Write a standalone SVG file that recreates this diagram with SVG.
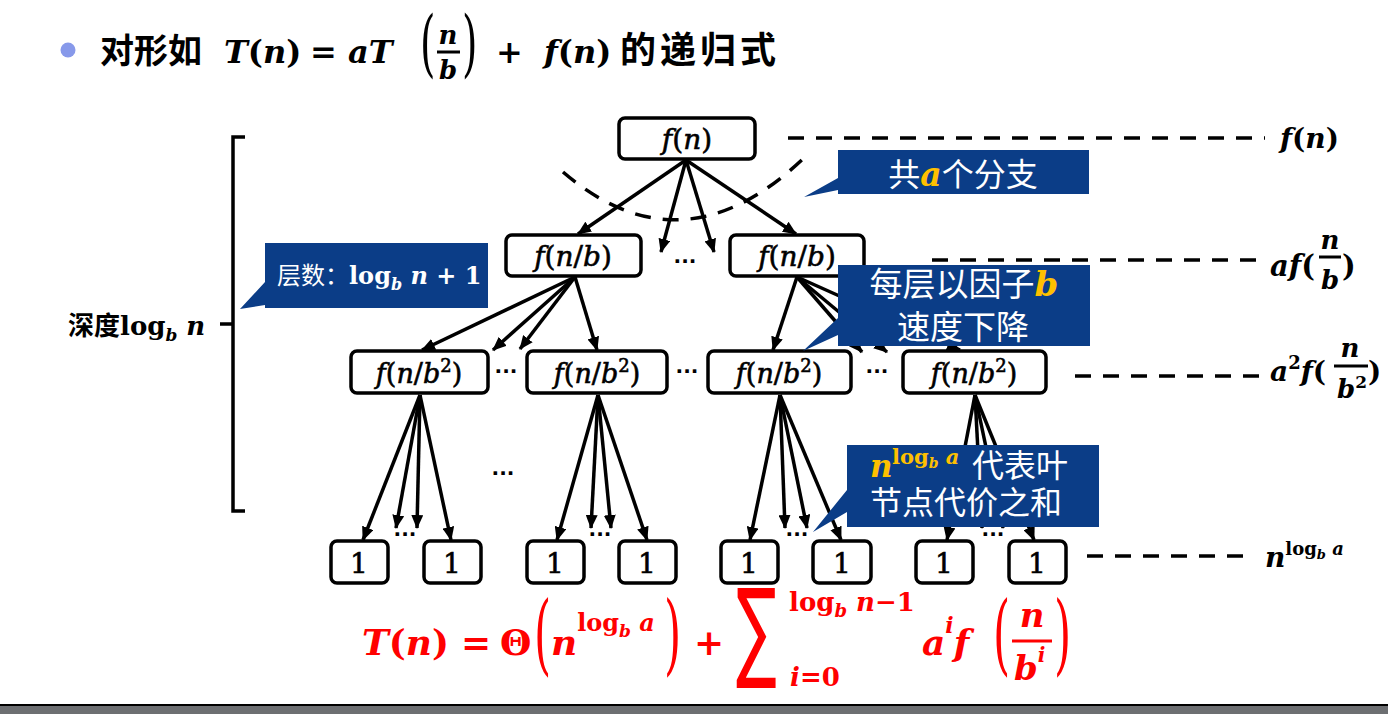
<svg xmlns="http://www.w3.org/2000/svg" width="1388" height="714" viewBox="0 0 1388 714">
<style>
.m{font-family:"DejaVu Serif","Liberation Serif",serif;font-style:italic}
.u{font-style:normal}
.bd{font-weight:bold}
.cjk{font-family:"Noto Sans CJK SC","Noto Sans",sans-serif}
.node rect{fill:#fff;stroke:#000;stroke-width:3.5}
.node text{stroke:#000;stroke-width:0.6}
.edge line{stroke:#000;stroke-width:3.5;marker-end:url(#ah)}
.dash{stroke:#000;stroke-width:3.5;stroke-dasharray:16 12;fill:none}
.co{fill:#0b3d87}
.wt{fill:#fff}
.gd{fill:#ffc000}
.dots{font-family:"DejaVu Sans",sans-serif;font-size:20px;font-weight:bold}
</style>
<defs>
<marker id="ah" markerUnits="userSpaceOnUse" markerWidth="14" markerHeight="12" viewBox="0 0 14 12" refX="13" refY="6" orient="auto">
<path d="M0,0 L14,6 L0,12 z" fill="#000"/>
</marker>
</defs>
<rect width="1388" height="714" fill="#fff"/>

<!-- title -->
<g id="title">
<circle cx="68" cy="50" r="7.5" fill="#8799ea"/>
<text x="100" y="63" class="cjk bd" font-size="34">对形如</text>
<text x="224" y="63" class="m bd" font-size="32">T<tspan class="u">(</tspan>n<tspan class="u">)</tspan></text>
<text x="310" y="63" class="m bd u" font-size="32">=</text>
<text x="348" y="63" class="m bd" font-size="32">aT</text>
<text transform="translate(420,68) scale(0.55,1)" class="m u" font-size="72">(</text>
<text x="448" y="44" class="m bd" font-size="26" text-anchor="middle">n</text>
<line x1="437" y1="52" x2="460" y2="52" stroke="#000" stroke-width="3"/>
<text x="448" y="79" class="m bd" font-size="26" text-anchor="middle">b</text>
<text transform="translate(462,68) scale(0.55,1)" class="m u" font-size="72">)</text>
<text x="496" y="63" class="m bd u" font-size="32">+</text>
<text x="544" y="63" class="m bd" font-size="32">f<tspan class="u">(</tspan>n<tspan class="u">)</tspan></text>
<text x="620" y="63" class="cjk bd" font-size="36" letter-spacing="4">的递归式</text>
</g>

<!-- depth bracket -->
<g id="depth">
<path d="M245,137 L233,137 L233,511 L245,511 M233,324 L220,324" fill="none" stroke="#000" stroke-width="3.5"/>
<text x="68" y="335" class="cjk bd" font-size="26">深度<tspan class="m u bd">log</tspan><tspan class="m bd" font-size="17" dy="6">b</tspan><tspan class="m bd" dy="-6"> n</tspan></text>
</g>

<!-- dashed guides and right labels -->
<g id="guides">
<line class="dash" x1="788" y1="138" x2="1265" y2="138"/>
<line class="dash" x1="932" y1="260" x2="1262" y2="260"/>
<line class="dash" x1="1075" y1="376" x2="1265" y2="376"/>
<line class="dash" x1="1087" y1="556" x2="1250" y2="556"/>
<path class="dash" d="M563,172 Q683,275 806,156"/>
</g>
<g id="lbl-f">
<text x="1280" y="148" class="m bd" font-size="28">f<tspan class="u">(</tspan>n<tspan class="u">)</tspan></text>
</g>
<g id="lbl-af">
<text x="1270" y="276" class="m bd" font-size="29">af<tspan class="u">(</tspan></text>
<text x="1330" y="249" class="m bd" font-size="26" text-anchor="middle">n</text>
<line x1="1319" y1="257" x2="1341" y2="257" stroke="#000" stroke-width="3"/>
<text x="1330" y="289" class="m bd" font-size="26" text-anchor="middle">b</text>
<text x="1342" y="276" class="m bd u" font-size="29">)</text>
</g>
<g id="lbl-a2f">
<text x="1270" y="381" class="m bd" font-size="28">a<tspan class="u" font-size="18" dy="-12">2</tspan><tspan dy="12">f</tspan><tspan class="u">(</tspan></text>
<text x="1350" y="357" class="m bd" font-size="26" text-anchor="middle">n</text>
<line x1="1334" y1="366" x2="1368" y2="366" stroke="#000" stroke-width="3"/>
<text x="1337" y="398" class="m bd" font-size="26">b<tspan class="u" font-size="17" dy="-10">2</tspan></text>
<text x="1368" y="381" class="m bd u" font-size="28">)</text>
</g>
<g id="lbl-leaf">
<text x="1265" y="567" class="m bd" font-size="28">n<tspan class="u" font-size="18" dy="-12">log</tspan><tspan font-size="13" dy="4">b</tspan><tspan font-size="18" dy="-4"> a</tspan></text>
</g>

<!-- connectors -->
<g id="connectors" class="edge">
<line x1="686" y1="160" x2="578" y2="234"/>
<line x1="686" y1="160" x2="661" y2="252"/>
<line x1="686" y1="160" x2="714" y2="252"/>
<line x1="686" y1="160" x2="796" y2="234"/>

<line x1="575" y1="277" x2="422" y2="350"/>
<line x1="575" y1="277" x2="493" y2="350"/>
<line x1="575" y1="277" x2="520" y2="349"/>
<line x1="575" y1="277" x2="597" y2="350"/>

<line x1="797" y1="277" x2="773" y2="350"/>
<line x1="797" y1="277" x2="862" y2="352"/>
<line x1="797" y1="277" x2="887" y2="352"/>
<line x1="797" y1="277" x2="960" y2="350"/>

<line x1="420" y1="395" x2="363" y2="540"/>
<line x1="420" y1="395" x2="396" y2="528"/>
<line x1="420" y1="395" x2="417" y2="528"/>
<line x1="420" y1="395" x2="451" y2="540"/>

<line x1="598" y1="395" x2="557" y2="540"/>
<line x1="598" y1="395" x2="591" y2="528"/>
<line x1="598" y1="395" x2="611" y2="528"/>
<line x1="598" y1="395" x2="647" y2="540"/>

<line x1="780" y1="395" x2="750" y2="540"/>
<line x1="780" y1="395" x2="785" y2="528"/>
<line x1="780" y1="395" x2="807" y2="528"/>
<line x1="780" y1="395" x2="841" y2="540"/>

<line x1="975" y1="395" x2="947" y2="540"/>
<line x1="975" y1="395" x2="982" y2="528"/>
<line x1="975" y1="395" x2="1003" y2="528"/>
<line x1="975" y1="395" x2="1034" y2="540"/>
</g>

<!-- nodes -->
<g id="n-root" class="node"><rect x="619" y="118" width="136" height="41" rx="6"/>
<text x="687" y="149" class="m" font-size="28" text-anchor="middle">f<tspan class="u">(</tspan>n<tspan class="u">)</tspan></text></g>
<g id="n-l1a" class="node"><rect x="506" y="235" width="135" height="41" rx="6"/>
<text x="573" y="266" class="m" font-size="28" text-anchor="middle">f<tspan class="u">(</tspan>n<tspan class="u">/</tspan>b<tspan class="u">)</tspan></text></g>
<g id="n-l1b" class="node"><rect x="730" y="235" width="134" height="41" rx="6"/>
<text x="797" y="266" class="m" font-size="28" text-anchor="middle">f<tspan class="u">(</tspan>n<tspan class="u">/</tspan>b<tspan class="u">)</tspan></text></g>

<g id="n-l2a" class="node"><rect x="351" y="351" width="137" height="42" rx="6"/>
<text x="419" y="383" class="m" font-size="27" text-anchor="middle">f<tspan class="u">(</tspan>n<tspan class="u">/</tspan>b<tspan class="u" font-size="18" dy="-11">2</tspan><tspan class="u" dy="11">)</tspan></text></g>
<g id="n-l2b" class="node"><rect x="527" y="351" width="140" height="42" rx="6"/>
<text x="597" y="383" class="m" font-size="27" text-anchor="middle">f<tspan class="u">(</tspan>n<tspan class="u">/</tspan>b<tspan class="u" font-size="18" dy="-11">2</tspan><tspan class="u" dy="11">)</tspan></text></g>
<g id="n-l2c" class="node"><rect x="708" y="351" width="143" height="42" rx="6"/>
<text x="779" y="383" class="m" font-size="27" text-anchor="middle">f<tspan class="u">(</tspan>n<tspan class="u">/</tspan>b<tspan class="u" font-size="18" dy="-11">2</tspan><tspan class="u" dy="11">)</tspan></text></g>
<g id="n-l2d" class="node"><rect x="903" y="351" width="143" height="42" rx="6"/>
<text x="974" y="383" class="m" font-size="27" text-anchor="middle">f<tspan class="u">(</tspan>n<tspan class="u">/</tspan>b<tspan class="u" font-size="18" dy="-11">2</tspan><tspan class="u" dy="11">)</tspan></text></g>

<g id="n-leaf1" class="node"><rect x="331" y="541" width="57" height="42" rx="6"/><text x="359" y="573" class="m u" font-size="28" text-anchor="middle">1</text></g>
<g id="n-leaf2" class="node"><rect x="424" y="541" width="57" height="42" rx="6"/><text x="452" y="573" class="m u" font-size="28" text-anchor="middle">1</text></g>
<g id="n-leaf3" class="node"><rect x="527" y="541" width="57" height="42" rx="6"/><text x="555" y="573" class="m u" font-size="28" text-anchor="middle">1</text></g>
<g id="n-leaf4" class="node"><rect x="619" y="541" width="57" height="42" rx="6"/><text x="647" y="573" class="m u" font-size="28" text-anchor="middle">1</text></g>
<g id="n-leaf5" class="node"><rect x="721" y="541" width="57" height="42" rx="6"/><text x="749" y="573" class="m u" font-size="28" text-anchor="middle">1</text></g>
<g id="n-leaf6" class="node"><rect x="813" y="541" width="58" height="42" rx="6"/><text x="842" y="573" class="m u" font-size="28" text-anchor="middle">1</text></g>
<g id="n-leaf7" class="node"><rect x="916" y="541" width="57" height="42" rx="6"/><text x="944" y="573" class="m u" font-size="28" text-anchor="middle">1</text></g>
<g id="n-leaf8" class="node"><rect x="1009" y="541" width="57" height="42" rx="6"/><text x="1037" y="573" class="m u" font-size="28" text-anchor="middle">1</text></g>

<!-- ellipses -->
<g id="ellipses" class="dots">
<text x="685" y="268" text-anchor="middle">···</text>
<text x="506" y="378" text-anchor="middle">···</text>
<text x="687" y="378" text-anchor="middle">···</text>
<text x="877" y="378" text-anchor="middle">···</text>
<text x="503" y="480" text-anchor="middle">···</text>
<text x="405" y="541" text-anchor="middle">···</text>
<text x="600" y="541" text-anchor="middle">···</text>
<text x="797" y="541" text-anchor="middle">···</text>
<text x="993" y="541" text-anchor="middle">···</text>
</g>

<!-- callouts -->
<g id="c-branch">
<polygon class="co" points="838,150 1089,150 1089,194 838,194 838,190 804,197 838,178"/>
<text x="963" y="186" class="cjk wt" font-size="32" text-anchor="middle">共<tspan class="m bd gd" font-size="33">a</tspan>个分支</text>
</g>
<g id="c-levels">
<polygon class="co" points="265,243 488,243 488,308 265,308 265,305 240,309 265,282"/>
<text x="277" y="284" class="cjk wt" font-size="24">层数：<tspan class="m bd u">log</tspan><tspan class="m bd" font-size="16" dy="6">b</tspan><tspan class="m bd" dy="-6"> n</tspan><tspan class="m bd u"> + 1</tspan></text>
</g>
<g id="c-shrink">
<polygon class="co" points="838,265 1090,265 1090,346 838,346 838,335 803,351 838,318"/>
<text x="964" y="296" class="cjk wt" font-size="33" text-anchor="middle">每层以因子<tspan class="m bd gd" font-size="34">b</tspan></text>
<text x="963" y="339" class="cjk wt" font-size="33" text-anchor="middle">速度下降</text>
</g>
<g id="c-leafcost">
<polygon class="co" points="847,445 1099,445 1099,527 847,527 847,512 813,532 847,490"/>
<text x="870" y="477" class="m bd gd" font-size="31">n</text>
<text x="892" y="464" class="m bd gd u" font-size="21">log<tspan class="m bd" font-style="italic" font-size="14" dy="4">b</tspan><tspan class="m bd" font-style="italic" dy="-4"> a</tspan></text>
<text x="972" y="477" class="cjk wt" font-size="32">代表叶</text>
<text x="870" y="514" class="cjk wt" font-size="32">节点代价之和</text>
</g>

<!-- formula -->
<g id="formula" fill="#ff0000">
<text x="362" y="655" class="m bd" font-size="36">T<tspan class="u">(</tspan>n<tspan class="u">)</tspan></text>
<text x="461" y="655" class="m bd u" font-size="36">=</text>
<text x="500" y="655" class="m bd u" font-size="36">Θ</text>
<text transform="translate(534,664) scale(0.5,1)" class="m u" font-size="88">(</text>
<text x="551" y="655" class="m bd" font-size="36">n<tspan class="u" font-size="24" dy="-24">log</tspan><tspan font-size="17" dy="6">b</tspan><tspan font-size="24" dy="-6"> a</tspan></text>
<text transform="translate(664,664) scale(0.5,1)" class="m u" font-size="88">)</text>
<text x="694" y="655" class="m bd u" font-size="36">+</text>
<text transform="translate(736,667) scale(0.55,1)" font-family="DejaVu Sans,sans-serif" font-size="110">∑</text>
<text x="789" y="611" class="m bd" font-size="26"><tspan class="u">log</tspan><tspan font-size="18" dy="6">b</tspan><tspan dy="-6"> n</tspan><tspan class="u">−1</tspan></text>
<text x="790" y="686" class="m bd" font-size="26">i<tspan class="u">=0</tspan></text>
<text x="922" y="655" class="m bd" font-size="36">a<tspan font-size="22" dy="-22">i</tspan><tspan dy="22">f</tspan></text>
<text transform="translate(993,664) scale(0.5,1)" class="m u" font-size="88">(</text>
<text x="1032" y="627" class="m bd" font-size="34" text-anchor="middle">n</text>
<line x1="1012" y1="641" x2="1052" y2="641" stroke="#ff0000" stroke-width="3"/>
<text x="1014" y="680" class="m bd" font-size="34">b<tspan font-size="20" dy="-18">i</tspan></text>
<text transform="translate(1054,664) scale(0.5,1)" class="m u" font-size="88">)</text>
</g>

<!-- bottom bar -->
<line x1="0" y1="705" x2="1388" y2="705" stroke="#000" stroke-width="2"/>
<rect x="0" y="706" width="1388" height="8" fill="#6d6f72"/>
</svg>
